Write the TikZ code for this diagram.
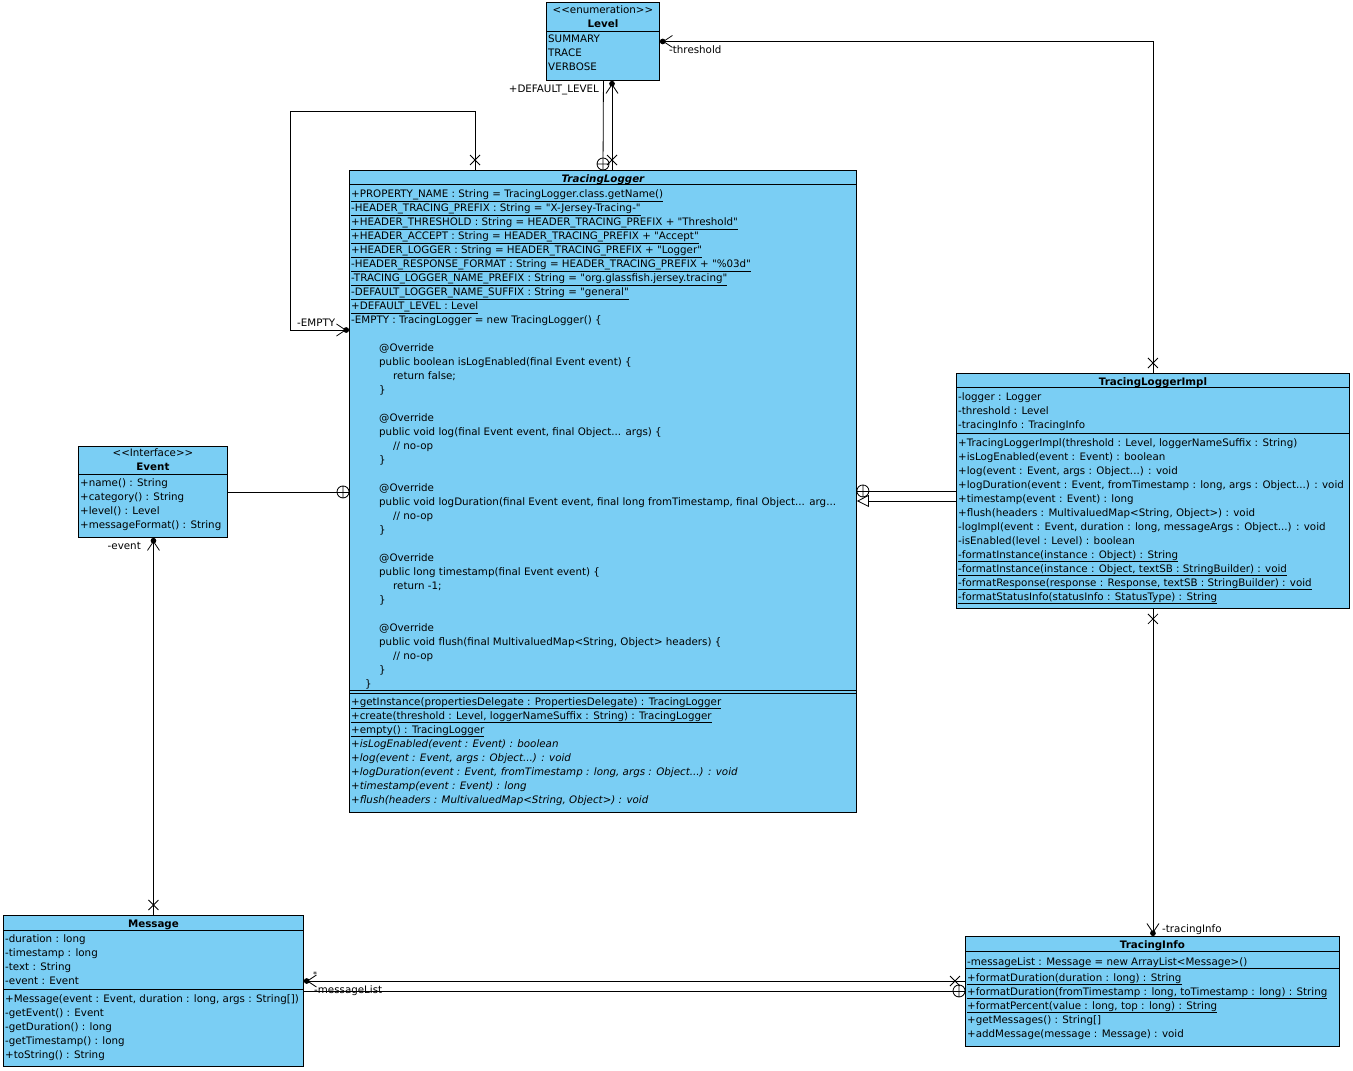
\documentclass[tikz,border=0pt]{standalone}
\usepackage{fontspec}
\usepackage{tikz}
\usetikzlibrary{arrows.meta,positioning,calc,decorations.markings}
\newfontfamily\umlfont{DejaVu Sans}[Ligatures=TeXOff]
\definecolor{umlblue}{HTML}{7ACEF4}

\begin{document}
\begin{tikzpicture}[
  x=1pt, y=-1pt,
  classbox/.style={draw, fill=umlblue, line width=0.9pt, anchor=north west, inner sep=0pt},
  members/.style={anchor=north west, inner sep=0pt, align=left,
                  font=\umlfont\fontsize{10.3}{14}\selectfont, execute at begin node=\strut},
  classtitle/.style={anchor=north, inner sep=0pt, align=center,
                  font=\umlfont\fontsize{10.3}{14}\selectfont, execute at begin node=\strut},
  rolelabel/.style={inner sep=0pt, font=\umlfont\fontsize{10.3}{14}\selectfont},
  sepline/.style={line width=0.9pt},
  markpen/.style={-, shorten >=0pt, line width=0.8pt},
  assoc/.style={line width=0.8pt,
    -{Straight Barb[length=9pt,width=12pt,sep=-2.8pt] Circle[length=5.6pt]},
    postaction={decorate}, decoration={markings,
      mark=at position 10pt with {\draw[markpen] (-5pt,-5pt) -- (5pt,5pt) (-5pt,5pt) -- (5pt,-5pt);}}},
  nest/.style={line width=0.8pt, postaction={decorate}, decoration={markings,
      mark=at position -6pt with {\draw[markpen] (0,0) circle (6pt) (0,-6pt) -- (0,6pt);}}},
  gen/.style={line width=0.8pt, -{Triangle[length=12pt,width=12pt,fill=white]}}
]
\useasboundingbox (0,0) rectangle (1353,1071);

% classes
\node[classbox, minimum width=113pt, minimum height=78pt] (level) at (546,2) {};
\node[classbox, minimum width=507pt, minimum height=642pt] (logger) at (349,170) {};
\node[classbox, minimum width=149pt, minimum height=91pt] (event) at (78,446) {};
\node[classbox, minimum width=393pt, minimum height=235pt] (impl) at (956,373) {};
\node[classbox, minimum width=300pt, minimum height=151pt] (message) at (3,915) {};
\node[classbox, minimum width=374pt, minimum height=110pt] (info) at (965,936) {};

% Level
\node[classtitle] (leveltitle) at ([yshift=-3pt]level.north) {<<enumeration>>\\\textbf{Level}};
\draw[sepline] ([yshift=-29pt]level.north west) -- ([yshift=-29pt]level.north east);
\node[members] (levelvals) at ([xshift=2pt,yshift=-33pt]level.north west) {SUMMARY\\TRACE\\VERBOSE};

% TracingLogger
\node[classtitle] (loggertitle) at ([yshift=-2pt]logger.north) {\bfseries\itshape TracingLogger};
\draw[sepline] ([yshift=-14pt]logger.north west) -- ([yshift=-14pt]logger.north east);
\node[members] (loggerattrs) at ([xshift=2pt,yshift=-19pt]logger.north west) {%
\underline{+PROPERTY\_NAME : String = TracingLogger.class.getName()}\\
\underline{-HEADER\_TRACING\_PREFIX : String = "X-Jersey-Tracing-"}\\
\underline{+HEADER\_THRESHOLD : String = HEADER\_TRACING\_PREFIX + "Threshold"}\\
\underline{+HEADER\_ACCEPT : String = HEADER\_TRACING\_PREFIX + "Accept"}\\
\underline{+HEADER\_LOGGER : String = HEADER\_TRACING\_PREFIX + "Logger"}\\
\underline{-HEADER\_RESPONSE\_FORMAT : String = HEADER\_TRACING\_PREFIX + "\%03d"}\\
\underline{-TRACING\_LOGGER\_NAME\_PREFIX : String = "org.glassfish.jersey.tracing"}\\
\underline{-DEFAULT\_LOGGER\_NAME\_SUFFIX : String = "general"}\\
\underline{+DEFAULT\_LEVEL : Level}\\
-EMPTY : TracingLogger = new TracingLogger() \{\\
\strut\\
\hspace*{28pt}@Override\\
\hspace*{28pt}public boolean isLogEnabled(final Event event) \{\\
\hspace*{42pt}return false;\\
\hspace*{28pt}\}\\
\strut\\
\hspace*{28pt}@Override\\
\hspace*{28pt}public void log(final Event event, final Object... args) \{\\
\hspace*{42pt}// no-op\\
\hspace*{28pt}\}\\
\strut\\
\hspace*{28pt}@Override\\
\hspace*{28pt}public void logDuration(final Event event, final long fromTimestamp, final Object... arg...\\
\hspace*{42pt}// no-op\\
\hspace*{28pt}\}\\
\strut\\
\hspace*{28pt}@Override\\
\hspace*{28pt}public long timestamp(final Event event) \{\\
\hspace*{42pt}return -1;\\
\hspace*{28pt}\}\\
\strut\\
\hspace*{28pt}@Override\\
\hspace*{28pt}public void flush(final MultivaluedMap<String, Object> headers) \{\\
\hspace*{42pt}// no-op\\
\hspace*{28pt}\}\\
\hspace*{14pt}\}};
\draw[sepline] ([yshift=-520pt]logger.north west) -- ([yshift=-520pt]logger.north east);
\draw[sepline] ([yshift=-523pt]logger.north west) -- ([yshift=-523pt]logger.north east);
\node[members] (loggerops) at ([xshift=2pt,yshift=-527pt]logger.north west) {%
\underline{+getInstance(propertiesDelegate : PropertiesDelegate) : TracingLogger}\\
\underline{+create(threshold : Level, loggerNameSuffix : String) : TracingLogger}\\
\underline{+empty() : TracingLogger}\\
\itshape +isLogEnabled(event : Event) : boolean\\
\itshape +log(event : Event, args : Object...) : void\\
\itshape +logDuration(event : Event, fromTimestamp : long, args : Object...) : void\\
\itshape +timestamp(event : Event) : long\\
\itshape +flush(headers : MultivaluedMap<String, Object>) : void};

% Event
\node[classtitle] (eventtitle) at ([yshift=-2pt]event.north) {<<Interface>>\\\textbf{Event}};
\draw[sepline] ([yshift=-28pt]event.north west) -- ([yshift=-28pt]event.north east);
\node[members] (eventops) at ([xshift=2pt,yshift=-32pt]event.north west) {%
+name() : String\\+category() : String\\+level() : Level\\+messageFormat() : String};

% TracingLoggerImpl
\node[classtitle] (impltitle) at ([yshift=-2pt]impl.north) {\bfseries TracingLoggerImpl};
\draw[sepline] ([yshift=-14pt]impl.north west) -- ([yshift=-14pt]impl.north east);
\node[members] (implattrs) at ([xshift=2pt,yshift=-19pt]impl.north west) {%
-logger : Logger\\-threshold : Level\\-tracingInfo : TracingInfo};
\draw[sepline] ([yshift=-60pt]impl.north west) -- ([yshift=-60pt]impl.north east);
\node[members] (implops) at ([xshift=2pt,yshift=-65pt]impl.north west) {%
+TracingLoggerImpl(threshold : Level, loggerNameSuffix : String)\\
+isLogEnabled(event : Event) : boolean\\
+log(event : Event, args : Object...) : void\\
+logDuration(event : Event, fromTimestamp : long, args : Object...) : void\\
+timestamp(event : Event) : long\\
+flush(headers : MultivaluedMap<String, Object>) : void\\
-logImpl(event : Event, duration : long, messageArgs : Object...) : void\\
-isEnabled(level : Level) : boolean\\
\underline{-formatInstance(instance : Object) : String}\\
\underline{-formatInstance(instance : Object, textSB : StringBuilder) : void}\\
\underline{-formatResponse(response : Response, textSB : StringBuilder) : void}\\
\underline{-formatStatusInfo(statusInfo : StatusType) : String}};

% Message
\node[classtitle] (msgtitle) at ([yshift=-2pt]message.north) {\bfseries Message};
\draw[sepline] ([yshift=-15pt]message.north west) -- ([yshift=-15pt]message.north east);
\node[members] (msgattrs) at ([xshift=2pt,yshift=-19pt]message.north west) {%
-duration : long\\-timestamp : long\\-text : String\\-event : Event};
\draw[sepline] ([yshift=-74pt]message.north west) -- ([yshift=-74pt]message.north east);
\node[members] (msgops) at ([xshift=2pt,yshift=-79pt]message.north west) {%
+Message(event : Event, duration : long, args : String[])\\
-getEvent() : Event\\-getDuration() : long\\-getTimestamp() : long\\+toString() : String};

% TracingInfo
\node[classtitle] (infotitle) at ([yshift=-2pt]info.north) {\bfseries TracingInfo};
\draw[sepline] ([yshift=-15pt]info.north west) -- ([yshift=-15pt]info.north east);
\node[members] (infoattrs) at ([xshift=2pt,yshift=-19pt]info.north west) {%
-messageList : Message = new ArrayList<Message>()};
\draw[sepline] ([yshift=-32pt]info.north west) -- ([yshift=-32pt]info.north east);
\node[members] (infoops) at ([xshift=2pt,yshift=-37pt]info.north west) {%
\underline{+formatDuration(duration : long) : String}\\
\underline{+formatDuration(fromTimestamp : long, toTimestamp : long) : String}\\
\underline{+formatPercent(value : long, top : long) : String}\\
+getMessages() : String[]\\
+addMessage(message : Message) : void};

% connectors
\draw[assoc] ([xshift=126pt]logger.north west) -- ++(0,-59)
  -| ([xshift=-59pt,yshift=-160pt]logger.north west) -- ([yshift=-160pt]logger.north west);
\node[rolelabel, anchor=base west] (emptylbl) at (297,326) {-EMPTY};

\draw[nest] ([xshift=0.5pt]level.south) -- ([xshift=254pt]logger.north west);
\draw[assoc] ([xshift=263pt]logger.north west) -- ([xshift=263pt]logger.north west |- level.south);
\node[rolelabel, anchor=base east] (deflevellbl) at (599,92) {+DEFAULT\_LEVEL};

\draw[assoc] (impl.north) |- (level.east);
\node[rolelabel, anchor=base west] (thresholdlbl) at (669,53) {-threshold};

\draw[nest] (event.east) -- (event.east -| logger.west);
\draw[nest] (impl.west) -- (impl.west -| logger.east);
\draw[gen] ([yshift=-10pt]impl.west) -- ([yshift=-10pt]impl.west -| logger.east);

\draw[assoc] (message.north) -- (message.north |- event.south);
\node[rolelabel, anchor=base east] (eventlbl) at (141,549) {-event};

\draw[assoc] (impl.south) -- (impl.south |- info.north);
\node[rolelabel, anchor=base west] (tracinglbl) at (1162,932) {-tracingInfo};

\draw[assoc] ([yshift=-45pt]info.north west) -- ([yshift=-45pt]info.north west -| message.east);
\node[rolelabel, anchor=base west, font=\umlfont\fontsize{8}{10}\selectfont] (multlbl) at (313,977) {*};
\node[rolelabel, anchor=base west] (msglistlbl) at (314,993) {-messageList};
\draw[nest] (message.east) -- (message.east -| info.west);
\end{tikzpicture}
\end{document}
